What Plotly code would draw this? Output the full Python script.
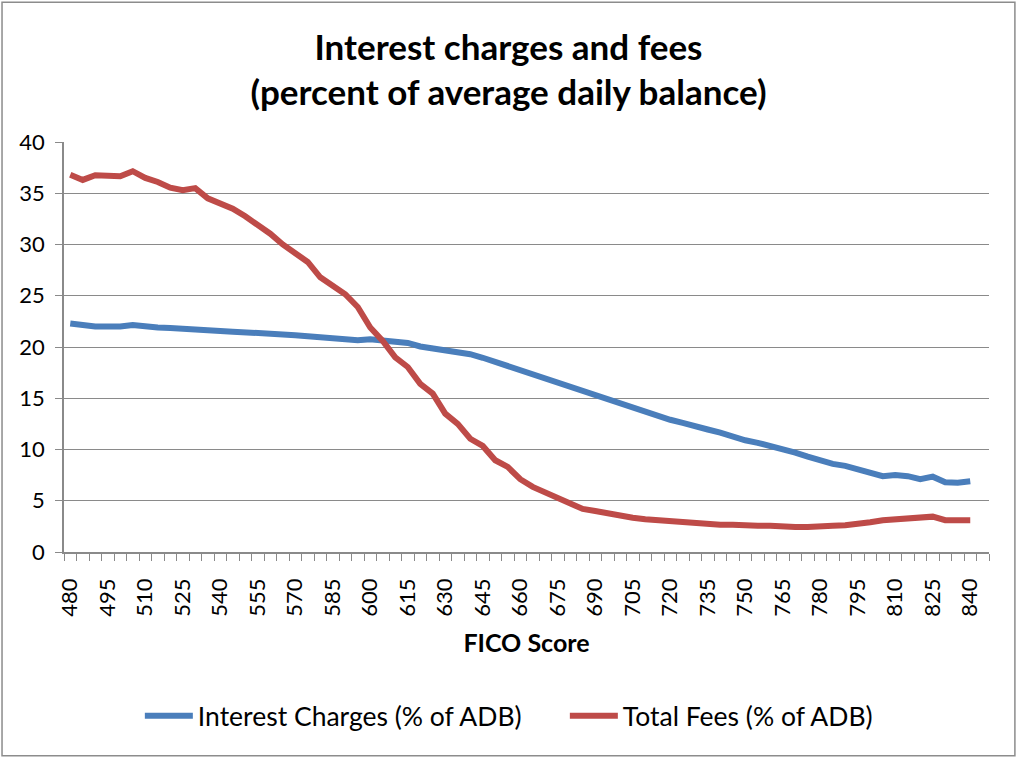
import plotly.graph_objects as go

# ---- Data ----
fico_score = [480, 485, 490, 495, 500, 505, 510, 515, 520, 525,
              530, 535, 540, 545, 550, 555, 560, 565, 570, 575,
              580, 585, 590, 595, 600, 605, 610, 615, 620, 625,
              630, 635, 640, 645, 650, 655, 660, 665, 670, 675,
              680, 685, 690, 695, 700, 705, 710, 715, 720, 725,
              730, 735, 740, 745, 750, 755, 760, 765, 770, 775,
              780, 785, 790, 795, 800, 805, 810, 815, 820, 825,
              830, 835, 840]

interest_charges = [22.3, 22.1, 22.0, 22.0, 22.0, 22.15, 22.0, 21.9, 21.85, 21.75,
                    21.75, 21.65, 21.55, 21.5, 21.45, 21.4, 21.3, 21.25, 21.15, 21.05,
                    20.95, 20.85, 20.75, 20.65, 20.75, 20.6, 20.45, 20.4, 20.05, 19.85,
                    19.7, 19.55, 19.3, 18.95, 18.55, 18.15, 17.7, 17.3, 16.9, 16.45,
                    16.05, 15.7, 15.2, 14.85, 14.4, 14.1, 13.7, 13.35, 12.9, 12.6,
                    12.2, 11.95, 11.65, 11.2, 10.9, 10.65, 10.35, 9.9, 9.7, 9.3,
                    8.9, 8.6, 8.4, 8.05, 7.65, 7.4, 7.5, 7.4, 7.1, 7.35,
                    6.8, 6.75, 6.9]

total_fees = [36.8, 36.3, 36.75, 36.75, 36.65, 37.15, 36.5, 36.1, 35.55, 35.3,
              35.5, 34.5, 34.0, 33.5, 32.75, 31.9, 31.05, 30.0, 29.2, 28.3,
              26.8, 26.0, 25.15, 23.9, 21.9, 20.6, 19.0, 18.05, 16.4, 15.45,
              13.5, 12.5, 11.05, 10.35, 8.95, 8.3, 7.1, 6.35, 5.8, 5.2,
              4.6, 4.2, 4.0, 3.75, 3.55, 3.35, 3.2, 3.1, 2.95, 2.85,
              2.75, 2.75, 2.65, 2.65, 2.55, 2.55, 2.55, 2.45, 2.45, 2.45,
              2.45, 2.55, 2.6, 2.7, 2.9, 3.1, 3.2, 3.3, 3.4, 3.45,
              3.1, 3.1, 3.1]

x_tick_labels = [480, 495, 510, 525, 540, 555, 570, 585, 600, 615, 630, 645,
                 660, 675, 690, 705, 720, 735, 750, 765, 780, 795, 810, 825, 840]
y_tick_labels = [0, 5, 10, 15, 20, 25, 30, 35, 40]

BLUE = "#4a7ebb"
RED = "#be4b48"
GRID = "#8a8a8a"
FONT = "Lato"

fig = go.Figure()
fig.add_trace(go.Scatter(x=fico_score, y=interest_charges, mode="lines",
                         name="Interest Charges (% of ADB)",
                         line=dict(color=BLUE, width=6)))
fig.add_trace(go.Scatter(x=fico_score, y=total_fees, mode="lines",
                         name="Total Fees (% of ADB)",
                         line=dict(color=RED, width=6)))

fig.update_layout(
    width=1017, height=757,
    margin=dict(l=64, r=28, t=142, b=205, autoexpand=False),
    paper_bgcolor="white", plot_bgcolor="white",
    font=dict(family=FONT, color="black"),
    title=dict(text="<b>Interest charges and fees<br>(percent of average daily balance)</b>",
               x=0.5, xref="container", xanchor="center",
               y=0.921, yref="container", yanchor="top",
               font=dict(family=FONT, size=35, color="black")),
    showlegend=True,
    legend=dict(orientation="h", x=0.082, xanchor="left", y=-0.40, yanchor="middle",
                xref="paper", yref="paper",
                font=dict(family=FONT, size=26.5, color="black"),
                itemwidth=48, entrywidth=362, tracegroupgap=0),
    xaxis=dict(range=[477.5, 847.5], tickmode="array", tickvals=x_tick_labels,
               ticktext=[str(v) for v in x_tick_labels],
               tickangle=-90, ticks="", showgrid=False,
               showline=True, linecolor=GRID, linewidth=1.5,
               tickfont=dict(family=FONT, size=22, color="black"),
               ticklabelstandoff=16, automargin=False,
               minor=dict(tick0=477.5, dtick=5, ticks="outside", ticklen=7,
                          tickcolor=GRID, tickwidth=1, showgrid=False),
               title=dict(text="<b>FICO Score</b>", standoff=19,
                          font=dict(family=FONT, size=25, color="black")),
               zeroline=False, fixedrange=True),
    yaxis=dict(range=[0, 40], tickmode="array", tickvals=y_tick_labels,
               ticks="outside", ticklen=7, tickcolor=GRID, tickwidth=1,
               showgrid=True, gridcolor=GRID, gridwidth=1.2,
               showline=True, linecolor=GRID, linewidth=1.5,
               tickfont=dict(family=FONT, size=22, color="black"),
               ticklabelstandoff=6, automargin=False,
               zeroline=False, fixedrange=True),
    shapes=[dict(type="rect", xref="paper", yref="paper",
                 x0=-0.067, x1=1.028, y0=-0.497, y1=1.341,
                 line=dict(color="#8c8c8c", width=1.5), fillcolor="rgba(0,0,0,0)",
                 layer="below")],
)

fig.write_html("out.html", config={"displayModeBar": False},
               post_script="document.body.style.margin='0px';")
